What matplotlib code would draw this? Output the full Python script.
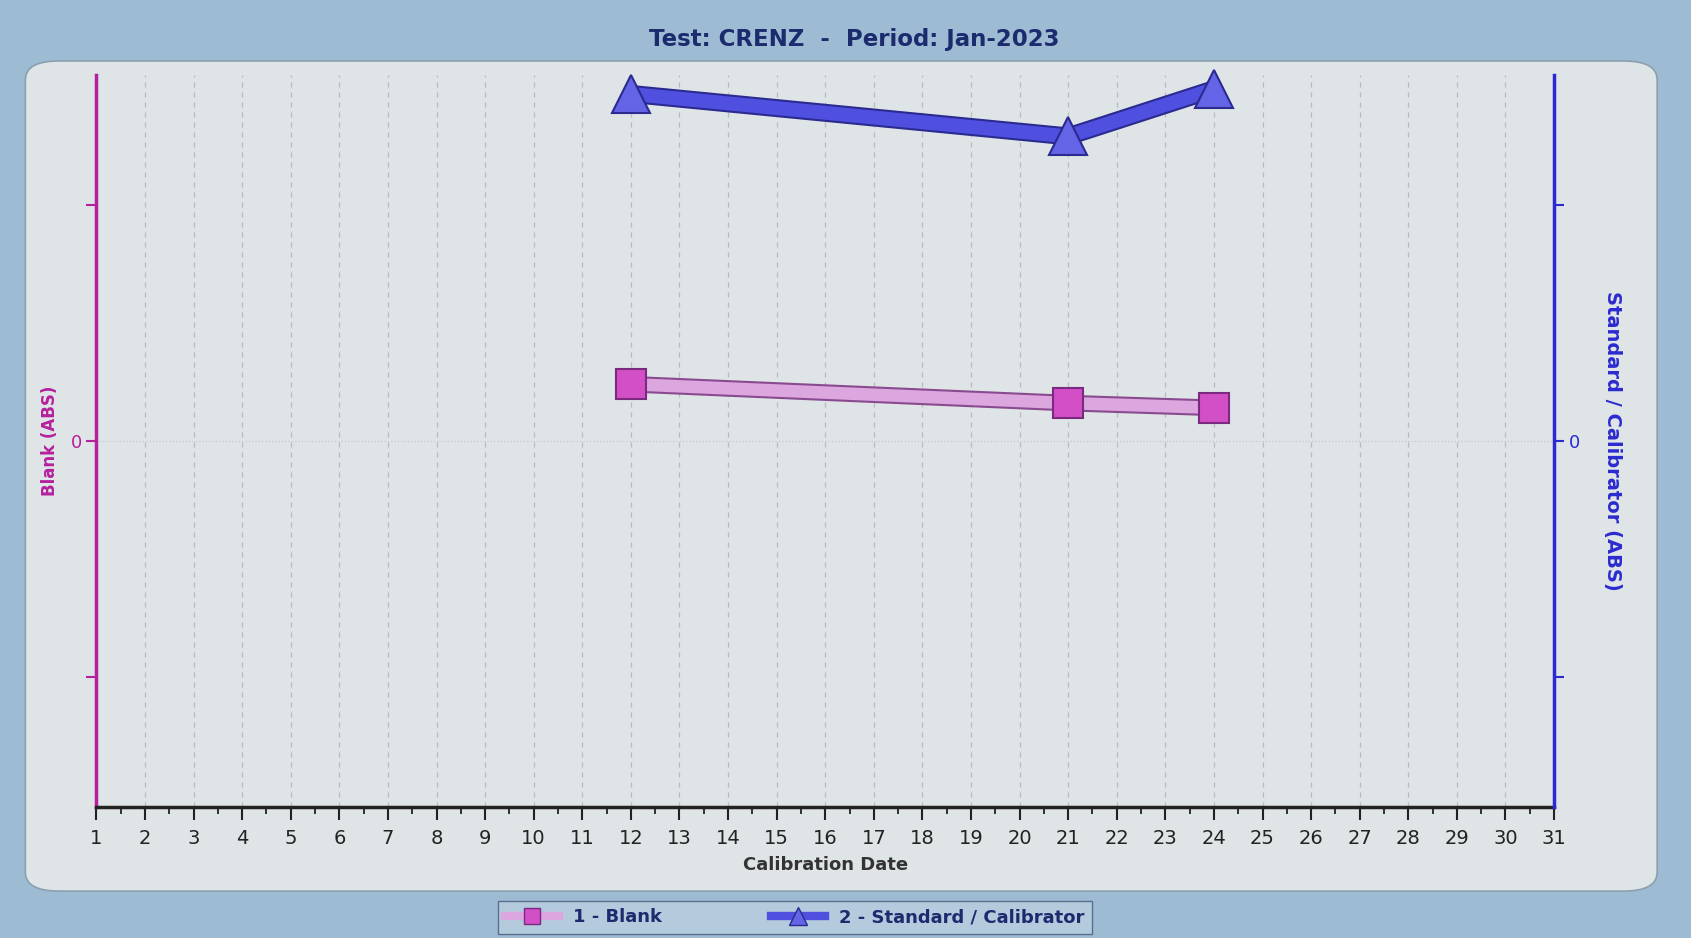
import numpy as np
import matplotlib.pyplot as plt
import matplotlib.patheffects as pe
from matplotlib.patches import FancyBboxPatch

# --- data ---
days = list(range(1, 32))
blank_days = [12, 21, 24]
blank_abs = [0.024, 0.016, 0.014]
std_days = [12, 21, 24]
std_abs = [0.147, 0.129, 0.149]

title = "Test: CRENZ  -  Period: Jan-2023"

MAGENTA = "#b5209c"
BLUE = "#2a2ad0"

fig = plt.figure(figsize=(16.91, 9.38), dpi=100)
fig.patch.set_facecolor("#9dbcd4")

# rounded inner panel, kept behind the axes
panel = FancyBboxPatch((0.015, 0.05), 0.965, 0.885,
                       boxstyle="round,pad=0,rounding_size=0.02",
                       transform=fig.transFigure, facecolor="#dfe4e6",
                       edgecolor="#8aa0b0", linewidth=1.2, zorder=-5)
fig.patches.append(panel)

ax = fig.add_axes([0.057, 0.14, 0.862, 0.78])
ax.set_facecolor("none")
ax2 = ax.twinx()

# blank series (left axis)
ax.plot(blank_days, blank_abs, color="#dca6df", lw=9, solid_capstyle="butt",
        path_effects=[pe.Stroke(linewidth=12, foreground="#8a4a90"), pe.Normal()],
        zorder=3)
ax.plot(blank_days, blank_abs, ls="none", marker="s", ms=22,
        markerfacecolor="#d24fc6", markeredgecolor="#7a2a80", mew=1.5, zorder=4)

# standard series (right axis)
ax2.plot(std_days, std_abs, color="#5050e0", lw=10, solid_capstyle="butt",
         path_effects=[pe.Stroke(linewidth=13, foreground="#2a2a90"), pe.Normal()],
         zorder=3, clip_on=False)
ax2.plot(std_days, std_abs, ls="none", marker="^", ms=27,
         markerfacecolor="#6464e6", markeredgecolor="#2a2a90", mew=1.5,
         zorder=4, clip_on=False)

# x axis
ax.set_xlim(1, 31)
ax.set_xticks(days)
ax.set_xticks(np.arange(1.5, 31, 1), minor=True)
ax.tick_params(axis="x", which="major", length=9, width=1.5, labelsize=14, colors="#222222", pad=7)
ax.tick_params(axis="x", which="minor", length=5, width=1.3, colors="#222222")
ax.set_xlabel("Calibration Date", fontsize=13, fontweight="bold", color="#333333", labelpad=6)
ax.grid(axis="x", color="#b8bcbe", ls=(0, (4, 4)), lw=0.9)
ax.axhline(0, color="#c4c8ca", ls=":", lw=0.9, zorder=1)

# left axis
ax.set_ylim(-0.155, 0.155)
ax.set_yticks([-0.1, 0, 0.1])
ax.set_yticklabels(["", "0", ""])
ax.tick_params(axis="y", colors=MAGENTA, labelsize=13, length=7, width=1.5)
ax.set_ylabel("Blank (ABS)", color=MAGENTA, fontsize=12, fontweight="bold", labelpad=8)

# right axis
ax2.set_ylim(-0.155, 0.155)
ax2.set_yticks([-0.1, 0, 0.1])
ax2.set_yticklabels(["", "0", ""])
ax2.tick_params(axis="y", colors=BLUE, labelsize=13, length=7, width=1.5)
ax2.set_ylabel("Standard / Calibrator (ABS)", color=BLUE, fontsize=14,
               fontweight="bold", rotation=-90, labelpad=30)

for a in (ax, ax2):
    a.spines["top"].set_visible(False)
ax.spines["left"].set_color(MAGENTA)
ax.spines["left"].set_linewidth(2.5)
ax.spines["right"].set_visible(False)
ax2.spines["left"].set_visible(False)
ax2.spines["bottom"].set_visible(False)
ax2.spines["right"].set_color(BLUE)
ax2.spines["right"].set_linewidth(2.5)
ax.spines["bottom"].set_color("#222222")
ax.spines["bottom"].set_linewidth(2.5)

fig.text(0.505, 0.958, title, ha="center", va="center", fontsize=16.5,
         fontweight="bold", color="#1c2a6e")

# legend
h1 = plt.Line2D([], [], color="#dca6df", lw=6, marker="s", ms=12,
                markerfacecolor="#d24fc6", markeredgecolor="#7a2a80")
h2 = plt.Line2D([], [], color="#5050e0", lw=6, marker="^", ms=13,
                markerfacecolor="#6464e6", markeredgecolor="#2a2a90")
leg = fig.legend([h1, h2], ["1 - Blank", "2 - Standard / Calibrator"],
                 loc="lower center", bbox_to_anchor=(0.47, -0.005), ncol=2,
                 fontsize=13, frameon=True, fancybox=False, columnspacing=6,
                 handlelength=3)
leg.get_frame().set_facecolor("#b9cfe0")
leg.get_frame().set_edgecolor("#4a5a80")
for t in leg.get_texts():
    t.set_color("#1c2a6e")
    t.set_fontweight("bold")

fig.savefig("out.png", dpi=100, facecolor=fig.get_facecolor())
